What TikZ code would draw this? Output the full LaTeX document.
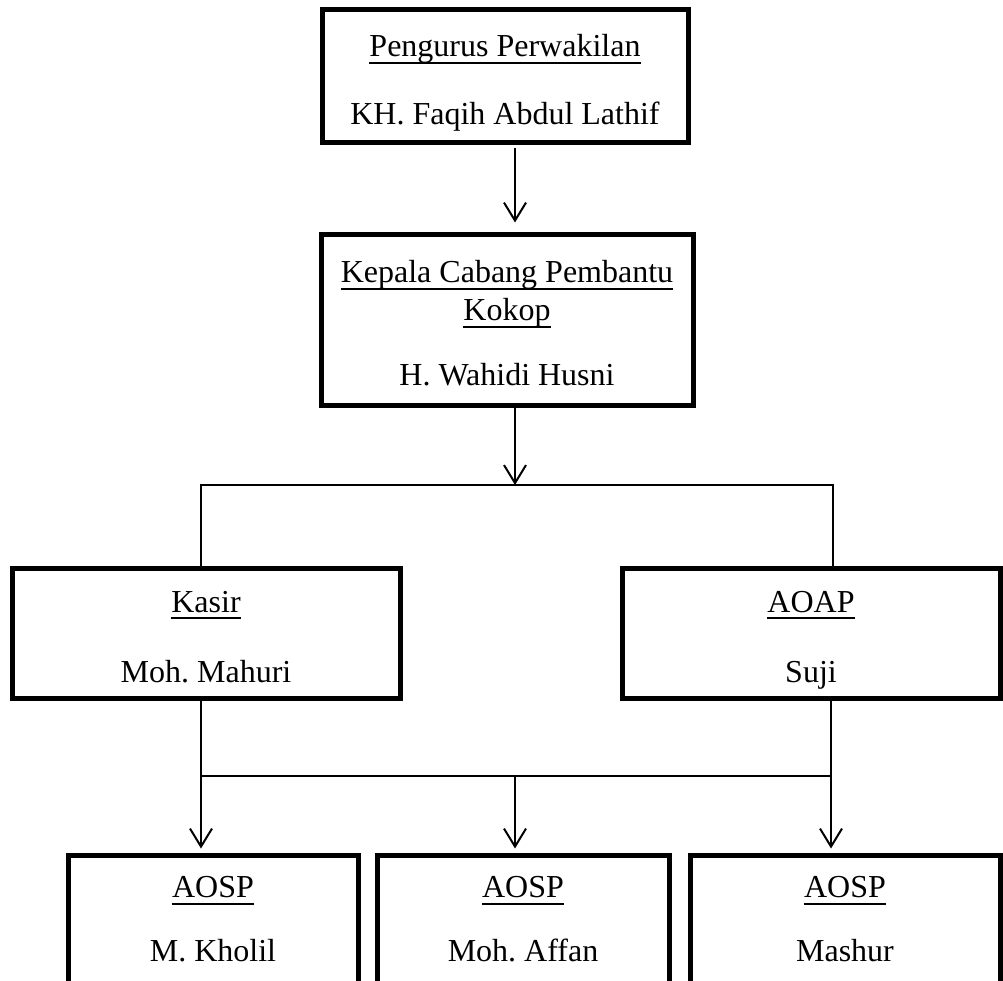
\documentclass[tikz,border=0pt]{standalone}
\usepackage{fontspec}
\setmainfont{Liberation Serif}
\usetikzlibrary{arrows.meta}
\frenchspacing
% underline drawn at a fixed depth below the baseline
\newcommand\titleline[1]{\setbox0=\hbox{#1}\rlap{\rule[-7pt]{\wd0}{2pt}}\box0\strut}
% extra head room above the first line of a box
\newcommand\headroom{\rule{0pt}{40pt}}
\begin{document}
\begin{tikzpicture}[x=1pt,y=-1pt,
  box/.style={draw,line width=5pt,rectangle,align=center,inner sep=0pt,
    font=\fontsize{32}{38}\selectfont},
  link/.style={line width=2pt},
  arr/.style={link,-{Straight Barb[length=18pt,width=22pt,line width=2pt]}}]
  % page frame and clipping
  \path[fill=white,use as bounding box] (0,0) rectangle (1003,981);
  \clip (0,0) rectangle (1003,981);

  % boxes
  \node[box,minimum width=366pt,minimum height=133pt] (top) at (505,76.5)
    {\headroom\titleline{Pengurus Perwakilan}\\[30pt]KH. Faqih Abdul Lathif\strut};
  \node[box,minimum width=372pt,minimum height=170pt] (kcp) at (507,320)
    {\headroom\titleline{Kepala Cabang Pembantu}\\\titleline{Kokop}\\[27pt]H. Wahidi Husni\strut};
  \node[box,minimum width=388pt,minimum height=130pt] (kasir) at (206,633)
    {\headroom\titleline{Kasir}\\[32pt]Moh. Mahuri\strut};
  \node[box,minimum width=378pt,minimum height=130pt] (aoap) at (811,633)
    {\headroom\titleline{AOAP}\\[32pt]Suji\strut};
  \node[box,minimum width=290pt,minimum height=134pt] (b1) at (213,922)
    {\titleline{AOSP}\\[26pt]M. Kholil\strut};
  \node[box,minimum width=292pt,minimum height=134pt] (b2) at (523,922)
    {\titleline{AOSP}\\[26pt]Moh. Affan\strut};
  \node[box,minimum width=310pt,minimum height=134pt] (b3) at (845,922)
    {\titleline{AOSP}\\[26pt]Mashur\strut};

  % junction points
  \coordinate (ax) at (515,0);
  \coordinate (hl) at (201,485);
  \coordinate (hm) at (515,485);
  \coordinate (hr) at (833,485);
  \coordinate (ll) at (201,776);
  \coordinate (lm) at (515,776);
  \coordinate (lr) at (831,776);

  % connectors
  \draw[arr,shorten <=3pt,shorten >=10pt] (top.south -| ax) -- (kcp.north -| ax);
  \draw[arr] (kcp.south -| hm) -- (hm);
  \draw[link] (kasir.north -| hl) -- (hl) -- (hr) -- (aoap.north -| hr);
  \draw[link] (kasir.south -| ll) -- (ll) -- (lr) -- (aoap.south -| lr);
  \draw[arr,shorten >=4pt] (ll) -- (b1.north -| ll);
  \draw[arr,shorten >=4pt] (lm) -- (b2.north -| lm);
  \draw[arr,shorten >=4pt] (lr) -- (b3.north -| lr);
\end{tikzpicture}
\end{document}
